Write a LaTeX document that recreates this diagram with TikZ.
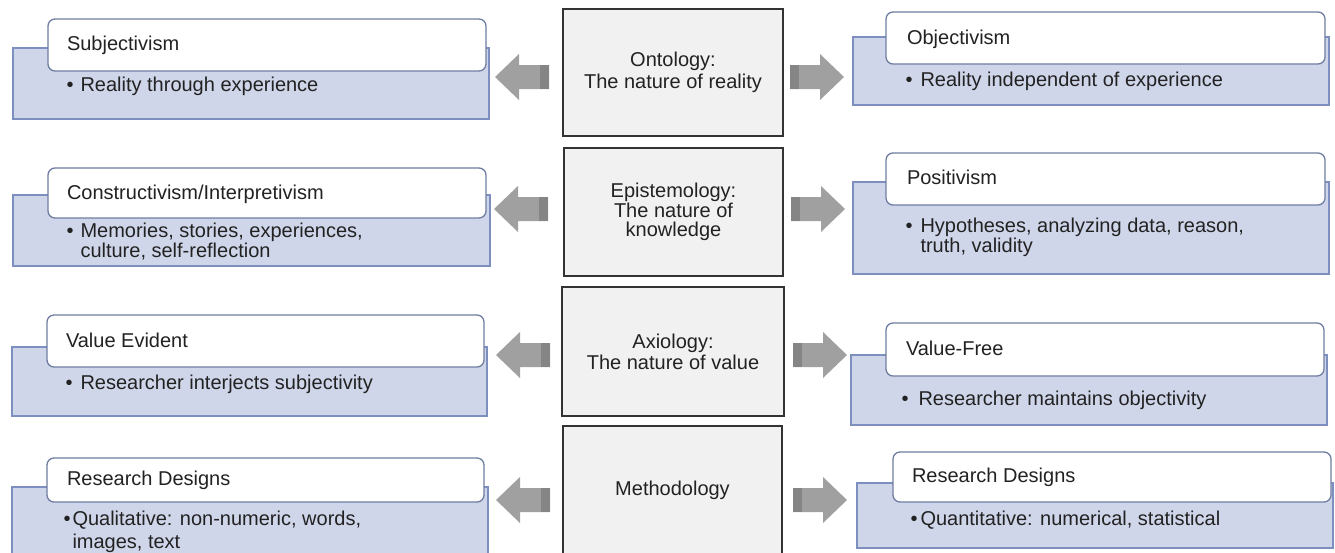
\documentclass[tikz,border=0pt]{standalone}
\usepackage{fontspec}
\setmainfont{Liberation Sans}
\usetikzlibrary{calc}
\definecolor{backfill}{HTML}{D0D6EA}
\definecolor{backline}{HTML}{7D8FBF}
\definecolor{frontline}{HTML}{6E7DA0}
\definecolor{cfill}{HTML}{F1F1F1}
\definecolor{cline}{HTML}{333333}
\definecolor{agray}{HTML}{A0A0A0}
\definecolor{adark}{HTML}{858585}
\definecolor{tcol}{HTML}{222222}
\tikzset{
  backbox/.style={draw=backline, fill=backfill, line width=1.3pt, inner sep=0pt, outer sep=0pt, anchor=north west},
  frontbox/.style={draw=frontline, fill=white, rounded corners=7pt, line width=1.3pt, inner sep=0pt, outer sep=0pt, anchor=north west},
  cbox/.style={draw=cline, fill=cfill, line width=1.8pt, inner sep=0pt, outer sep=0pt, anchor=north west, align=center, text=tcol},
  ttext/.style={inner sep=0pt, outer sep=0pt, anchor=base west, text=tcol, align=left},
}
\newcommand\blockarr[2]{%
  \begin{scope}[shift={(#1)}, xscale=#2]
    \fill[agray] (0,-12) -- (30,-12) -- (30,-23) -- (54,0) -- (30,23) -- (30,12) -- (0,12) -- cycle;
    \fill[adark] (0,-12) rectangle (9,12);
  \end{scope}}
\begin{document}
\begin{tikzpicture}[x=1pt, y=-1pt, font=\fontsize{20}{20}\selectfont]
\useasboundingbox (0,0) rectangle (1335,552);
\fill[white] (0,0) rectangle (1335,552);

% centre boxes
\node[cbox, minimum width=220pt, minimum height=127pt, font=\fontsize{20}{22}\selectfont] (c1) at (563,9) {Ontology:\\The nature of reality};
\node[cbox, minimum width=219pt, minimum height=128pt, font=\fontsize{20}{19.5}\selectfont] (c2) at (564,148) {Epistemology:\\The nature of\\knowledge};
\node[cbox, minimum width=222pt, minimum height=129pt, font=\fontsize{20}{21}\selectfont] (c3) at (562,287) {Axiology:\\The nature of value};
\node[cbox, minimum width=219pt, minimum height=128pt] (c4) at (563,426) {Methodology};

% row 1
\node[backbox, minimum width=476pt, minimum height=71pt] (b1l) at (13,48) {};
\node[frontbox, minimum width=438pt, minimum height=52pt] (f1l) at (48,19) {};
\node[ttext] (t1l) at (67,50) {Subjectivism};
\node[ttext] (d1l) at (66.5,91) {•};
\node[ttext] (x1l) at (80.5,91) {Reality through experience};

\node[backbox, minimum width=476pt, minimum height=68pt] (b1r) at (853,37) {};
\node[frontbox, minimum width=439pt, minimum height=52pt] (f1r) at (886,12) {};
\node[ttext] (t1r) at (907,44) {Objectivism};
\node[ttext] (d1r) at (905.5,86) {•};
\node[ttext] (x1r) at (920.5,86) {Reality independent of experience};

% row 2
\node[backbox, minimum width=477pt, minimum height=71pt] (b2l) at (13,195) {};
\node[frontbox, minimum width=438pt, minimum height=50pt] (f2l) at (48,168) {};
\node[ttext] (t2l) at (67,199) {Constructivism/Interpretivism};
\node[ttext] (d2l) at (66.5,237) {•};
\node[ttext, font=\fontsize{20}{20}\selectfont] (x2l) at (80.5,257) {Memories, stories, experiences,\\culture, self-reflection};

\node[backbox, minimum width=476pt, minimum height=92pt] (b2r) at (853,182) {};
\node[frontbox, minimum width=439pt, minimum height=52pt] (f2r) at (886,153) {};
\node[ttext] (t2r) at (907,184) {Positivism};
\node[ttext] (d2r) at (905.5,232) {•};
\node[ttext, font=\fontsize{20}{20}\selectfont] (x2r) at (920.5,252) {Hypotheses, analyzing data, reason,\\truth, validity};

% row 3
\node[backbox, minimum width=475pt, minimum height=69pt] (b3l) at (12,347) {};
\node[frontbox, minimum width=437pt, minimum height=52pt] (f3l) at (47,315) {};
\node[ttext] (t3l) at (66,347) {Value Evident};
\node[ttext] (d3l) at (65.5,389) {•};
\node[ttext] (x3l) at (80.5,389) {Researcher interjects subjectivity};

\node[backbox, minimum width=476pt, minimum height=70pt] (b3r) at (851,355) {};
\node[frontbox, minimum width=438pt, minimum height=53pt] (f3r) at (886,323) {};
\node[ttext] (t3r) at (906,355) {Value-Free};
\node[ttext] (d3r) at (901.5,405) {•};
\node[ttext] (x3r) at (918.5,405) {Researcher maintains objectivity};

% row 4
\node[backbox, minimum width=476pt, minimum height=75pt] (b4l) at (12,487) {};
\node[frontbox, minimum width=437pt, minimum height=44pt] (f4l) at (47,458) {};
\node[ttext] (t4l) at (67,485) {Research Designs};
\node[ttext] (d4l) at (63.5,525) {•};
\node[ttext, font=\fontsize{20}{23}\selectfont] (x4l) at (72.5,548) {Qualitative: non-numeric, words,\\images, text};

\node[backbox, minimum width=476pt, minimum height=65pt] (b4r) at (857,483) {};
\node[frontbox, minimum width=438pt, minimum height=50pt] (f4r) at (893,452) {};
\node[ttext] (t4r) at (912,482) {Research Designs};
\node[ttext] (d4r) at (910.5,525) {•};
\node[ttext] (x4r) at (920.5,525) {Quantitative: numerical, statistical};

% block arrows
\coordinate (a1l) at (549,77);  \coordinate (a1r) at (790,77);
\coordinate (a2l) at (548,209); \coordinate (a2r) at (791,209);
\coordinate (a3l) at (550,355); \coordinate (a3r) at (793,355);
\coordinate (a4l) at (550,500); \coordinate (a4r) at (793,500);
\blockarr{a1l}{-1}\blockarr{a1r}{1}
\blockarr{a2l}{-1}\blockarr{a2r}{1}
\blockarr{a3l}{-1}\blockarr{a3r}{1}
\blockarr{a4l}{-1}\blockarr{a4r}{1}
\end{tikzpicture}
\end{document}
